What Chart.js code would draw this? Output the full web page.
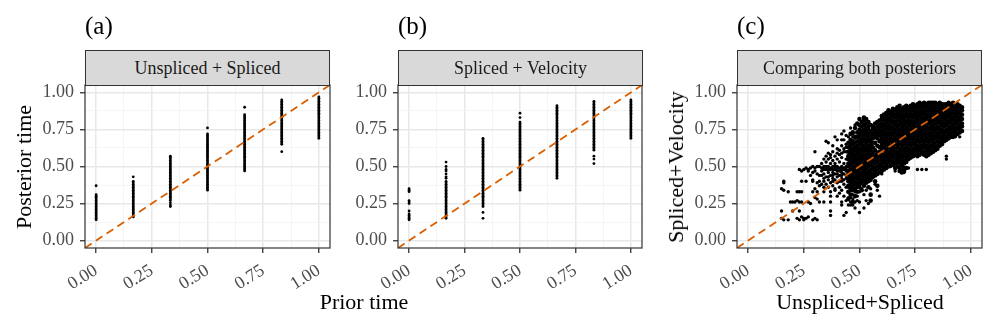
<!DOCTYPE html>
<html>
<head>
<meta charset="utf-8">
<script src="https://cdn.jsdelivr.net/npm/chart.js@4"></script>
<style>
  body{margin:0;background:#fff;}
  #wrap{position:relative;width:997px;height:332px;overflow:hidden;font-family:"Liberation Serif","Times New Roman",serif;}
  #wrap canvas{position:absolute;left:0;top:0;}
  .lab{position:absolute;line-height:1;white-space:nowrap;color:#000;}
  .tag{font-size:25px;transform:translateY(-50%);}
  .strip{position:absolute;top:50px;height:36px;box-sizing:border-box;background:#d9d9d9;border:1px solid #333;
         font-size:18px;color:#1a1a1a;display:flex;align-items:center;justify-content:center;}
  .ttl{font-size:22px;transform:translate(-50%,-50%);}
  .ttl.v{transform:translate(-50%,-50%) rotate(-90deg);}
</style>
</head>
<body>
<div id="wrap">
  <canvas id="cA" width="997" height="332"></canvas>
  <canvas id="cB" width="997" height="332"></canvas>
  <canvas id="cC" width="997" height="332"></canvas>
  <div class="lab tag" style="left:85px;top:25px">(a)</div>
  <div class="lab tag" style="left:398px;top:25px">(b)</div>
  <div class="lab tag" style="left:737px;top:25px">(c)</div>
  <div class="strip" style="left:85px;width:245px">Unspliced + Spliced</div>
  <div class="strip" style="left:398px;width:245px">Spliced + Velocity</div>
  <div class="strip" style="left:737px;width:245px">Comparing both posteriors</div>
  <div class="lab ttl v" style="left:24px;top:167px">Posterior time</div>
  <div class="lab ttl" style="left:364px;top:302px">Prior time</div>
  <div class="lab ttl v" style="left:676px;top:167px">Spliced+Velocity</div>
  <div class="lab ttl" style="left:860px;top:302px">Unspliced+Spliced</div>
</div>
<script>
// prior time categories (a, b)
const priorTimes = [0, 0.1667, 0.3333, 0.5, 0.6667, 0.8333, 1];
const tickVals = [0, 0.125, 0.25, 0.375, 0.5, 0.625, 0.75, 0.875, 1];
const axisMin = -0.05, axisMax = 1.05;

// (a) Unspliced + Spliced posterior times, one list per prior time
const usPost = [
  [0.37,0.31,0.30,0.29,0.28,0.27,0.26,0.25,0.24,0.23,0.22,0.21,0.20,0.19,0.18,0.17,0.16,0.15,0.14],
  [0.43,0.40,0.39,0.38,0.37,0.36,0.35,0.34,0.33,0.32,0.31,0.30,0.29,0.28,0.27,0.26,0.25,0.24,0.23,0.22,0.21,0.20,0.19,0.18,0.17,0.16],
  [0.57,0.56,0.55,0.54,0.53,0.52,0.51,0.50,0.49,0.48,0.47,0.46,0.45,0.44,0.43,0.42,0.41,0.40,0.39,0.38,0.37,0.36,0.35,0.34,0.33,0.32,0.31,0.30,0.29,0.28,0.27,0.255,0.24,0.23],
  [0.76,0.72,0.71,0.70,0.69,0.68,0.67,0.66,0.65,0.64,0.63,0.62,0.61,0.60,0.59,0.58,0.57,0.56,0.55,0.54,0.53,0.52,0.51,0.50,0.49,0.48,0.47,0.46,0.45,0.44,0.43,0.42,0.41,0.40,0.39,0.38,0.37,0.36,0.35,0.34],
  [0.90,0.85,0.84,0.83,0.82,0.81,0.80,0.79,0.78,0.77,0.76,0.75,0.74,0.73,0.72,0.71,0.70,0.69,0.68,0.67,0.66,0.65,0.64,0.63,0.62,0.61,0.60,0.59,0.58,0.57,0.56,0.55,0.54,0.53,0.52,0.51,0.50,0.49,0.48,0.47],
  [0.95,0.94,0.93,0.92,0.91,0.90,0.89,0.88,0.87,0.86,0.85,0.84,0.83,0.82,0.81,0.80,0.79,0.78,0.77,0.76,0.75,0.74,0.73,0.72,0.71,0.70,0.69,0.68,0.67,0.66,0.65,0.60],
  [0.97,0.96,0.95,0.94,0.93,0.92,0.91,0.90,0.89,0.88,0.87,0.86,0.85,0.84,0.83,0.82,0.81,0.80,0.79,0.78,0.77,0.76,0.75,0.74,0.73,0.72,0.71,0.70,0.69]
];

// (b) Spliced + Velocity posterior times
const svPost = [
  [0.35,0.34,0.33,0.27,0.26,0.25,0.20,0.18,0.17,0.16,0.15,0.14],
  [0.53,0.50,0.48,0.47,0.45,0.43,0.42,0.40,0.39,0.38,0.37,0.36,0.35,0.34,0.33,0.32,0.31,0.30,0.29,0.28,0.27,0.26,0.25,0.24,0.23,0.22,0.21,0.20,0.19,0.18,0.17,0.16,0.15],
  [0.69,0.68,0.67,0.66,0.65,0.64,0.63,0.62,0.61,0.60,0.59,0.58,0.57,0.56,0.55,0.54,0.53,0.52,0.51,0.50,0.49,0.48,0.47,0.46,0.45,0.44,0.43,0.42,0.41,0.40,0.39,0.38,0.37,0.36,0.35,0.34,0.33,0.32,0.31,0.30,0.29,0.28,0.27,0.26,0.25,0.24,0.23,0.19,0.15],
  [0.86,0.83,0.80,0.79,0.78,0.77,0.76,0.75,0.74,0.73,0.72,0.71,0.70,0.69,0.68,0.67,0.66,0.65,0.64,0.63,0.62,0.61,0.60,0.59,0.58,0.57,0.56,0.55,0.54,0.53,0.52,0.51,0.50,0.49,0.48,0.47,0.46,0.45,0.44,0.43,0.42,0.41,0.40,0.39,0.38,0.37,0.36,0.35,0.34],
  [0.91,0.90,0.89,0.88,0.87,0.86,0.85,0.84,0.83,0.82,0.81,0.80,0.79,0.78,0.77,0.76,0.75,0.74,0.73,0.72,0.71,0.70,0.69,0.68,0.67,0.66,0.65,0.64,0.63,0.62,0.61,0.60,0.59,0.58,0.57,0.56,0.55,0.54,0.53,0.52,0.51,0.50,0.49,0.48,0.47,0.46,0.45,0.44,0.43,0.42],
  [0.94,0.93,0.92,0.91,0.90,0.89,0.88,0.87,0.86,0.85,0.84,0.83,0.82,0.81,0.80,0.79,0.78,0.77,0.76,0.75,0.74,0.73,0.72,0.71,0.70,0.69,0.68,0.67,0.66,0.65,0.64,0.63,0.62,0.61,0.57,0.55,0.52],
  [0.95,0.94,0.93,0.92,0.91,0.90,0.89,0.88,0.87,0.86,0.85,0.84,0.83,0.82,0.81,0.80,0.79,0.78,0.77,0.76,0.75,0.74,0.73,0.72,0.71,0.70,0.69]
];

// (c) scattered cells, [unspliced+spliced, spliced+velocity] in hundredths
const bothSparse = [
  [15,15],[16,14],[15,20],[15,35],[16,34],[16,39],[18,33],[18,14],[19,26],[20,26],[21,26],[22,27],[23,26],[24,26],
  [22,15],[23,14],[24,16],[25,14],[25,15],[26,15],[27,16],[29,14],[30,15],[31,14],[27,26],[28,25],[23,48],[24,47],
  [27,48],[28,49],[29,50],[30,49],[31,50],[30,60],[29,41],[30,35],[31,33],[30,29],[31,28],[32,26],[37,17],[35,67],
  [36,66],[37,58],[38,64],[40,68],[42,68],[43,68],[43,74],[44,19],[43,17],[45,24],[46,24],[47,24],[42,24],[50,19],
  [53,27],[54,25],[58,34],[59,30],[22,33],[23,33],[24,33],[29,33],[34,33],[37,33],[39,34],[41,32],[16,40],[24,40],
  [26,40],[29,40],[32,40],[34,40],[36,41],[38,40],[40,39],[42,40],[43,41],[34,26],[37,26],[42,26],[44,27],[46,26],
  [48,26],[20,20],[23,20],[29,20],[37,20],
  [32,44],[33,47],[33,52],[34,45],[34,50],[35,43],[35,48],[35,53],[36,46],[36,50],[36,55],[37,44],[37,48],[37,52],
  [38,42],[38,46],[38,50],[38,54],[39,45],[39,48],[39,52],[40,43],[40,47],[40,50],[40,55],[41,44],[41,49],[41,53],
  [42,42],[42,46],[42,50],[42,56],[43,45],[43,48],[43,52],[44,44],[44,47],[44,50],[44,55],[44,60],
  [36,36],[37,30],[38,37],[39,35],[40,30],[41,36],[42,34],[43,30],[44,36],[45,33],[46,29],[46,37],[47,31],[48,35],
  [49,30],[45,40],[47,40],[48,38],[40,62],[41,58],[42,64],[43,60],[44,65],[45,70],[46,66],[47,72],[48,69],[38,60],
  [33,49],[34,48],[35,50],[36,48],[37,49],[38,48],[39,50],[40,48],[41,47],[42,48],[43,49],[44,48],[45,47],
  [34,42],[36,43],[38,44],[40,45],[42,44],[44,42],[35,38],[37,39],[39,41],[41,40],[43,38],[45,36],[46,34],[47,36],
  [48,33],[49,36],[50,33],[51,35],[52,31],[53,34],[34,55],[35,57],[36,59],[37,56],[39,57],[40,59],[41,61],[42,59],
  [43,62],[44,63],[31,45],[32,50],[33,44],[30,47],[29,46],[28,44],[27,47],[26,49],[25,48],[33,38],[34,36],[32,37],
  [31,39],[39,70],[42,72],[44,71],[46,76],[48,78],[47,70],[50,26],[52,22],[48,22],[55,35],[57,38],[49,27],[47,28],
  [45,29],[89,55],[89,57],[93,70],[95,70],[78,48],[80,48],[76,48],[72,49],[66,47],[70,46],[64,50],[60,45]
];
// (c) dense band: unspliced+spliced (hundredths) and the spliced+velocity values seen there
const bothX = [45,46,47,48,49,50,51,52,53,54,55,56,57,58,59,60,61,62,63,64,65,66,67,68,69,70,
               71,72,73,74,75,76,77,78,79,80,81,82,83,84,85,86,87,88,89,90,91,92,93,94,95,96];
const bothY = [
  [28,33,37,40,42,45,47,50,52,55,57,60,63,66],
  [31,35,38,41,43,46,48,51,53,56,59,61,64,68,72],
  [26,34,37,39,42,44,47,49,52,54,57,60,62,65,67,73],
  [30,35,38,40,43,46,48,50,53,55,58,61,63,66,70,76],
  [33,37,39,42,44,47,49,51,54,56,59,62,64,67,70,73,79],
  [36,38,41,43,45,48,50,53,55,57,60,62,65,67,70,72,75,78,82],
  [34,39,41,44,46,49,51,54,56,58,61,63,66,68,71,74,77,80],
  [37,40,43,45,47,50,52,55,57,60,62,64,67,69,72,75,78,81,83],
  [39,41,44,46,49,51,53,56,58,61,63,66,68,71,73,76,79,82],
  [36,40,42,45,47,50,52,55,57,59,62,64,67,70,72,75,77,80],
  [27,31,41,44,46,48,51,53,56,58,61,63,65,68,71,74,78],
  [43,45,48,50,53,55,58,60,63,66,69,72,75,77],
  [40,44,47,49,52,54,57,61,66,70,73,76,79],
  [37,45,48,50,53,56,59,64,69,72,74,77,80],
  [46,49,51,54,57,60,63,67,71,73,76,78,81],
  [47,50,52,55,58,61,64,66,69,72,74,77,79,82,84],
  [48,50,53,56,58,61,63,66,68,71,73,76,78,81,83,85],
  [49,51,54,57,60,62,65,67,70,72,75,77,80,82,84,86],
  [50,53,55,58,60,63,66,68,71,73,76,78,81,83,86,88],
  [52,54,57,59,62,64,67,69,72,75,77,80,82,85,87],
  [51,53,56,58,61,63,66,68,71,73,76,79,81,84,86,89],
  [49,52,54,57,60,62,65,68,70,73,75,78,80,83,85,88],
  [50,53,55,58,60,63,65,68,71,73,76,78,81,84,86,89,90],
  [47,49,52,55,57,60,62,65,67,70,72,75,78,80,83,85,88,91],
  [46,48,51,53,56,58,61,64,66,69,71,74,76,79,82,84,87,89],
  [47,49,52,54,57,60,62,65,67,70,73,75,78,80,83,85,88,90],
  [49,53,56,58,61,63,66,68,71,74,76,79,81,84,86,89,91],
  [55,57,60,62,65,67,70,72,75,78,80,83,85,88,90],
  [56,59,61,64,66,69,71,74,76,79,81,84,86,89,91],
  [57,60,62,65,68,70,73,75,78,80,83,85,88,90,92],
  [58,61,63,66,68,71,73,76,79,81,84,86,89,91],
  [57,59,62,64,67,69,72,75,77,80,82,85,87,90,92],
  [58,61,63,66,68,71,73,76,78,81,84,86,89,91,93],
  [59,62,64,67,69,72,74,77,80,82,85,87,90,92],
  [58,60,63,65,68,71,73,76,78,81,83,86,88,91,93],
  [57,59,62,64,67,70,72,75,77,80,82,85,88,90,92],
  [58,61,63,66,68,71,73,76,79,81,84,86,89,91,93],
  [59,62,64,67,70,72,75,77,80,83,85,88,90,93],
  [60,63,65,68,70,73,76,78,81,83,86,88,91,93],
  [61,63,66,69,71,74,76,79,81,84,86,89,91,93],
  [62,64,67,70,72,75,77,80,82,85,87,90,92],
  [64,66,69,71,74,76,79,81,84,86,89,91,93],
  [65,68,70,73,75,78,80,83,85,88,90,92],
  [67,69,72,74,77,79,82,84,87,89,92],
  [68,70,73,75,78,80,83,85,88,90,92],
  [69,71,74,76,79,81,84,86,88,91,93],
  [70,72,75,77,80,82,85,87,90,92],
  [70,73,76,78,81,83,86,88,91,93],
  [71,74,76,79,81,84,86,89,91],
  [72,75,77,80,82,85,87,90,92],
  [73,76,78,81,83,86,88,91],
  [74,77,79,82,85,88,90]
];

const isMajor = v => Math.abs(v*4 - Math.round(v*4)) < 1e-6;
const serif = '"Liberation Serif","Times New Roman",serif';

function axis(isX){
  return {
    type:'linear', min:axisMin, max:axisMax,
    afterBuildTicks: s => { s.ticks = tickVals.map(v=>({value:v})); },
    afterFit: s => { if(isX) s.height = 45; else s.width = 45; },
    border:{display:false},
    grid:{
      color: c => c.tick && isMajor(c.tick.value) ? '#e8e8e8' : '#f2f2f2',
      lineWidth: c => c.tick && isMajor(c.tick.value) ? 1.5 : 0.8,
      tickColor: c => c.tick && isMajor(c.tick.value) ? '#333' : 'rgba(0,0,0,0)',
      tickWidth: 1.3, tickLength: 5, drawTicks:true
    },
    ticks:{
      autoSkip:false, padding: isX ? 7 : 6, color:'#4d4d4d', font:{family:serif,size:18},
      minRotation: isX ? 32 : 0, maxRotation: isX ? 32 : 0,
      callback: v => isMajor(v) ? v.toFixed(2) : ''
    }
  };
}

const panelBox = {
  id:'panelBox',
  afterDatasetsDraw(chart){
    const a = chart.chartArea, ctx = chart.ctx;
    ctx.save(); ctx.strokeStyle='#333'; ctx.lineWidth=1.2;
    ctx.strokeRect(a.left, a.top, a.right-a.left, a.bottom-a.top);
    ctx.restore();
  }
};

function dots(pts, r){
  return {data:pts, pointRadius:r, pointBorderWidth:0, backgroundColor:'#000', pointBackgroundColor:'#000'};
}

function panel(id, left, right, sets){
  new Chart(document.getElementById(id), {
    type:'scatter',
    data:{datasets:[
      {type:'line', data:[{x:axisMin,y:axisMin},{x:axisMax,y:axisMax}], borderColor:'#d95f02',
       borderWidth:1.8, borderDash:[8,5], pointRadius:0, fill:false}
    ].concat(sets)},
    options:{
      responsive:false, animation:false, events:[],
      layout:{padding:{left:left-45, right:997-right, top:85, bottom:332-248-45}},
      plugins:{legend:{display:false}, tooltip:{enabled:false}},
      scales:{x:axis(true), y:axis(false)}
    },
    plugins:[panelBox]
  });
}

const ptsA = priorTimes.flatMap((x,i)=>usPost[i].map(y=>({x,y})));
const ptsB = priorTimes.flatMap((x,i)=>svPost[i].map(y=>({x,y})));
const ptsSparse = bothSparse.map(([x,y])=>({x:x/100,y:y/100}));
const ptsDense = bothX.flatMap((x,i)=>bothY[i].map(y=>({x:x/100,y:y/100})));

panel('cA', 85, 330, [dots(ptsA, 1.4)]);
panel('cB', 398, 642, [dots(ptsB, 1.4)]);
panel('cC', 737, 982, [dots(ptsSparse, 1.7), dots(ptsDense, 2.3)]);
</script>
</body>
</html>
